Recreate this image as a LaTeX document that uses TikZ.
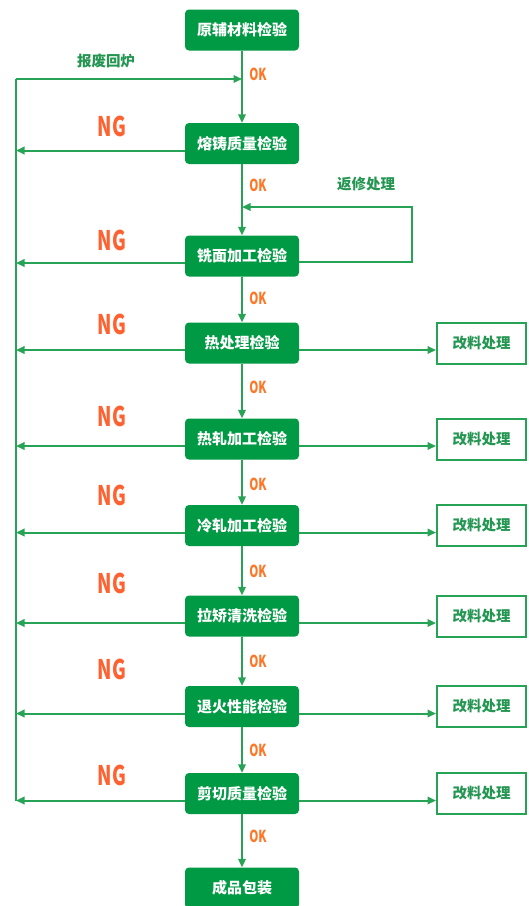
\documentclass[tikz,border=0pt]{standalone}
\usepackage{fontspec}
\setmainfont{Noto Sans CJK SC}
\usepackage{graphicx}
\usetikzlibrary{arrows.meta}

\definecolor{boxgreen}{RGB}{0,153,68}
\definecolor{linegreen}{RGB}{38,163,84}
\definecolor{txtgreen}{RGB}{36,150,82}
\definecolor{ngred}{RGB}{255,98,48}
\definecolor{okorange}{RGB}{255,118,38}

\tikzset{
    check/.style={shape=rectangle, rounded corners=4pt, fill=boxgreen, text=white,
        font=\bfseries\fontsize{15}{15}\selectfont, minimum width=114pt, minimum height=41pt, inner sep=0pt},
    redo/.style={shape=rectangle, draw=linegreen, line width=2pt, fill=white, text=txtgreen,
        font=\bfseries\fontsize{14.5}{15}\selectfont, minimum width=89pt, minimum height=41pt, inner sep=0pt},
    rail/.style={draw=linegreen, line width=2pt},
    flow/.style={rail, -{Triangle[length=8.5pt,width=7.5pt]}},
    ng/.style={text=ngred, font=\bfseries\fontsize{27}{27}\selectfont, inner sep=0pt},
    ok/.style={text=okorange, font=\bfseries\fontsize{16.5}{17}\selectfont, inner sep=0pt},
    note/.style={text=txtgreen, font=\bfseries\fontsize{14.5}{15}\selectfont, inner sep=0pt}
}

\begin{document}
\begin{tikzpicture}[x=1pt, y=-1pt]
        \useasboundingbox (0, 0) rectangle (529, 906);
        % main line
        \node[check] (B1) at (242, 30) {原辅材料检验};
        \node[check] (B2) at (242, 143.5) {熔铸质量检验};
        \node[check] (B3) at (242, 256) {铣面加工检验};
        \node[check] (B4) at (242, 343) {热处理检验};
        \node[check] (B5) at (242, 439) {热轧加工检验};
        \node[check] (B6) at (242, 525.5) {冷轧加工检验};
        \node[check] (B7) at (242, 616) {拉矫清洗检验};
        \node[check] (B8) at (242, 706.5) {退火性能检验};
        \node[check] (B9) at (242, 793.5) {剪切质量检验};
        \node[check] (B10) at (242, 888) {成品包装};
        % rework boxes
        \node[redo] (R4) at (481.5, 343) {改料处理};
        \node[redo] (R5) at (481.5, 439) {改料处理};
        \node[redo] (R6) at (481.5, 525.5) {改料处理};
        \node[redo] (R7) at (481.5, 616) {改料处理};
        \node[redo] (R8) at (481.5, 706.5) {改料处理};
        \node[redo] (R9) at (481.5, 793.5) {改料处理};
        % labels
        \node[note] (T1) at (106, 61) {报废回炉};
        \node[note] (T2) at (366, 184) {返修处理};
        \node[ok] (K1) at (258, 74) {\scalebox{0.7}[1]{OK}};
        \node[ok] (K2) at (258, 185) {\scalebox{0.7}[1]{OK}};
        \node[ok] (K3) at (258, 298) {\scalebox{0.7}[1]{OK}};
        \node[ok] (K4) at (258, 387) {\scalebox{0.7}[1]{OK}};
        \node[ok] (K5) at (258, 484) {\scalebox{0.7}[1]{OK}};
        \node[ok] (K6) at (258, 571) {\scalebox{0.7}[1]{OK}};
        \node[ok] (K7) at (258, 661) {\scalebox{0.7}[1]{OK}};
        \node[ok] (K8) at (258, 750) {\scalebox{0.7}[1]{OK}};
        \node[ok] (K9) at (258, 836) {\scalebox{0.7}[1]{OK}};
        \node[ng] (N2) at (112, 126) {\scalebox{0.7}[1]{NG}};
        \node[ng] (N3) at (112, 240) {\scalebox{0.7}[1]{NG}};
        \node[ng] (N4) at (112, 324) {\scalebox{0.7}[1]{NG}};
        \node[ng] (N5) at (112, 416) {\scalebox{0.7}[1]{NG}};
        \node[ng] (N6) at (112, 495) {\scalebox{0.7}[1]{NG}};
        \node[ng] (N7) at (112, 583) {\scalebox{0.7}[1]{NG}};
        \node[ng] (N8) at (112, 669) {\scalebox{0.7}[1]{NG}};
        \node[ng] (N9) at (112, 775) {\scalebox{0.7}[1]{NG}};
        \coordinate (L1) at (16, 79);
        \coordinate (L2) at (16, 800.5);
        \coordinate (C1) at (412, 207);
        % OK arrows
        \draw[flow] (B1) to (B2);
        \draw[flow] (B2) to (B3);
        \draw[flow] (B3) to (B4);
        \draw[flow] (B4) to (B5);
        \draw[flow] (B5) to (B6);
        \draw[flow] (B6) to (B7);
        \draw[flow] (B7) to (B8);
        \draw[flow] (B8) to (B9);
        \draw[flow] (B9) to (B10);
        % scrap return
        \draw[rail] (L2) to (L1);
        \draw[flow] (L1) to (L1 -| B1);
        \draw[flow] ([yshift=-7pt]B2.west) to ([yshift=-7pt]B2.west -| L1);
        \draw[flow] ([yshift=-7pt]B3.west) to ([yshift=-7pt]B3.west -| L1);
        \draw[flow] ([yshift=-7pt]B4.west) to ([yshift=-7pt]B4.west -| L1);
        \draw[flow] ([yshift=-7pt]B5.west) to ([yshift=-7pt]B5.west -| L1);
        \draw[flow] ([yshift=-7pt]B6.west) to ([yshift=-7pt]B6.west -| L1);
        \draw[flow] ([yshift=-7pt]B7.west) to ([yshift=-7pt]B7.west -| L1);
        \draw[flow] ([yshift=-7pt]B8.west) to ([yshift=-7pt]B8.west -| L1);
        \draw[flow] ([yshift=-7pt]B9.west) to ([yshift=-7pt]B9.west -| L1);
        % repair loop
        \draw[flow] ([yshift=-6pt]B3.east) -| (C1) -- (C1 -| B3);
        % rework
        \draw[flow] ([yshift=-7pt]B4.east) to ([yshift=-7pt]B4.east -| R4.west);
        \draw[flow] ([yshift=-7pt]B5.east) to ([yshift=-7pt]B5.east -| R5.west);
        \draw[flow] ([yshift=-7pt]B6.east) to ([yshift=-7pt]B6.east -| R6.west);
        \draw[flow] ([yshift=-7pt]B7.east) to ([yshift=-7pt]B7.east -| R7.west);
        \draw[flow] ([yshift=-7pt]B8.east) to ([yshift=-7pt]B8.east -| R8.west);
        \draw[flow] ([yshift=-7pt]B9.east) to ([yshift=-7pt]B9.east -| R9.west);
    \end{tikzpicture}
\end{document}
